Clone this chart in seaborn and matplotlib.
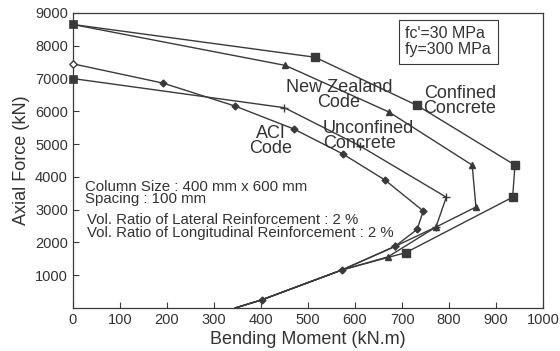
import matplotlib
matplotlib.use("Agg")
import matplotlib.pyplot as plt
import seaborn as sns
import pandas as pd

# ---- data ----
conf_m = [0, 515, 732, 940, 935, 708, 572, 402, 345]
conf_p = [8650, 7650, 6180, 4360, 3380, 1690, 1160, 250, 0]

nz_m = [0, 452, 672, 849, 857, 772, 670, 572, 402, 345]
nz_p = [8650, 7400, 5980, 4360, 3080, 2470, 1560, 1160, 250, 0]

unc_m = [0, 450, 611, 794, 772, 685, 572, 402, 345]
unc_p = [7000, 6110, 4940, 3380, 2470, 1880, 1160, 250, 0]

aci_m = [0, 192, 345, 470, 574, 664, 745, 732, 685, 572, 402, 345]
aci_p = [7450, 6860, 6160, 5460, 4700, 3900, 2960, 2400, 1880, 1160, 250, 0]

x_ticks = [0, 100, 200, 300, 400, 500, 600, 700, 800, 900, 1000]
y_ticks = [1000, 2000, 3000, 4000, 5000, 6000, 7000, 8000, 9000]

sns.set_style("ticks")
plt.rcParams["font.family"] = ["Liberation Sans", "DejaVu Sans"]
plt.rcParams["xtick.direction"] = "in"
plt.rcParams["ytick.direction"] = "in"

ink = "#3a3a3a"
tc = "#333333"
fig = plt.figure(figsize=(5.6, 3.51), dpi=100)
ax = fig.add_axes([0.130, 0.1225, 0.840, 0.8405])

series = [
    ("Confined", conf_m, conf_p, "s", 5.5, list(range(1, 6))),
    ("NZ", nz_m, nz_p, "^", 4, list(range(1, 7))),
    ("Unconfined", unc_m, unc_p, "+", 6, list(range(1, 6))),
    ("ACI", aci_m, aci_p, "D", 3.5, list(range(1, len(aci_m) - 1))),
]
for name, m, p, mk, ms, every in series:
    df = pd.DataFrame({"M": m, "P": p})
    sns.lineplot(data=df, x="M", y="P", sort=False, estimator=None, ax=ax,
                 color=ink, lw=1.0, marker=mk, markersize=ms, markevery=every,
                 markeredgecolor=ink, markerfacecolor=ink, markeredgewidth=1.0)

# squares at the pure axial-load points of the unconfined / confined curves
sq = sns.scatterplot(x=[unc_m[0], conf_m[0]], y=[unc_p[0], conf_p[0]], marker="s",
                     s=40, color=ink, edgecolor=ink, ax=ax, zorder=5)
# open diamond at the ACI axial-load point
sns.scatterplot(x=[aci_m[0]], y=[aci_p[0]], marker="D", s=14, color="white",
                edgecolor=ink, linewidth=1.0, ax=ax, zorder=5)
for coll in ax.collections:
    coll.set_clip_on(False)

ax.set_xlim(0, 1000)
ax.set_ylim(0, 9000)
ax.set_xticks(x_ticks)
ax.set_xticklabels([str(v) for v in x_ticks])
ax.set_yticks(y_ticks)
ax.set_yticklabels([str(v) for v in y_ticks])
ax.tick_params(labelsize=10.5, colors=ink, length=4, width=0.8, labelcolor=tc)
for s in ax.spines.values():
    s.set_visible(True)
    s.set_color(ink)
    s.set_linewidth(0.9)

ax.set_xlabel("Bending Moment (kN.m)", fontsize=13, color=tc, labelpad=3)
ax.set_ylabel("Axial Force (kN)", fontsize=13, color=tc, labelpad=4)

ax.text(707, 8120, "fc'=30 MPa\nfy=300 MPa", fontsize=11.5, color=tc, va="center",
        ha="left", linespacing=1.1,
        bbox=dict(boxstyle="square,pad=0.4", fc="white", ec=ink, lw=0.8))
ax.text(566, 6490, "New Zealand\nCode", fontsize=13, color=tc, ha="center",
        va="center", linespacing=0.85)
ax.text(823, 6310, "Confined\nConcrete", fontsize=13, color=tc, ha="center",
        va="center", linespacing=0.85)
ax.text(532, 5240, "Unconfined\nConcrete", fontsize=13, color=tc, ha="left",
        va="center", linespacing=0.85)
ax.text(421, 5090, "ACI\nCode", fontsize=13, color=tc, ha="center",
        va="center", linespacing=0.85)
ax.text(25, 3500, "Column Size : 400 mm x 600 mm\nSpacing : 100 mm", fontsize=10.8,
        color=tc, ha="left", va="center", linespacing=0.85)
ax.text(30, 2480, "Vol. Ratio of Lateral Reinforcement : 2 %\n"
        "Vol. Ratio of Longitudinal Reinforcement : 2 %", fontsize=10.8,
        color=tc, ha="left", va="center", linespacing=0.95)

fig.savefig("out.png", dpi=100, facecolor="white")
